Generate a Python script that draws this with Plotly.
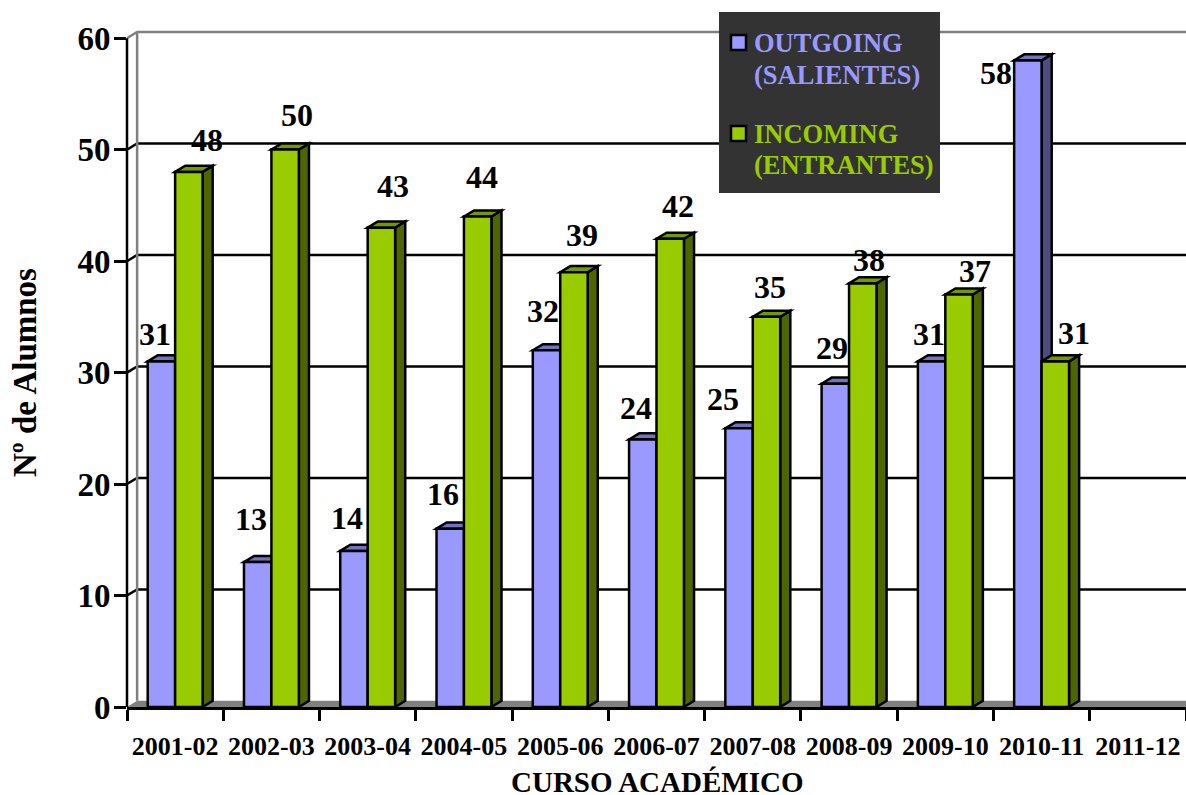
import plotly.graph_objects as go

cursos = ["2001-02", "2002-03", "2003-04", "2004-05", "2005-06", "2006-07",
          "2007-08", "2008-09", "2009-10", "2010-11", "2011-12"]
outgoing = [31, 13, 14, 16, 32, 24, 25, 29, 31, 58]
incoming = [48, 50, 43, 44, 39, 42, 35, 38, 37, 31]
y_ticks = [0, 10, 20, 30, 40, 50, 60]

# hand placed label offsets (px), the labels in the original are not regular
out_dx = [-6, -7, -7, -7, -4, -7, -16, -3, -3, -32]
out_dy = [27, 43, 33, 35, 39, 31, 29, 36, 27, -13]
in_dx = [18, 12, 12, 4, 8, 8, 4, 6, 16, 19]
in_dy = [32, 35, 42, 40, 37, 33, 30, 23, 24, 28]

FONT = "Liberation Serif"
LILAC, LILAC_TOP, LILAC_SIDE = "#9999FF", "#7373BF", "#4D4D80"
GREEN, GREEN_TOP, GREEN_SIDE = "#99CC00", "#739900", "#4D6600"

W, H = 1186, 795
L, R, T, B = 127, 0, 27, 88
BAR_W = 0.285
DEPTH_X = 0.105  # fake 3d depth in x units
DEPTH_Y = 0.55   # and in y units
X0, X1 = -0.5, 10.5


def paper_x(px):
    return (px - L) / (W - L - R)


def paper_y(px):
    return (H - B - px) / (H - T - B)


shapes = []

# floor
shapes.append(dict(
    type="path", layer="below", xref="x", yref="y", line=dict(width=0),
    fillcolor="#808080",
    path=f"M{X0},0 L{X0 + DEPTH_X},{DEPTH_Y} L{X1},{DEPTH_Y} L{X1},0 Z",
))
# back wall grid, with the small diagonal coming from the axis tick
for v in y_ticks[1:]:
    shapes.append(dict(
        type="path", layer="below", xref="x", yref="y",
        line=dict(color="#808080" if v == 60 else "black", width=2.5),
        path=f"M{X0},{v} L{X0 + DEPTH_X},{v + DEPTH_Y} L{X1},{v + DEPTH_Y}",
    ))
# left wall edge
shapes.append(dict(
    type="line", layer="below", xref="x", yref="y",
    x0=X0 + DEPTH_X, x1=X0 + DEPTH_X, y0=DEPTH_Y, y1=60 + DEPTH_Y,
    line=dict(color="#808080", width=2.5),
))


def bar_faces(values, offset, top_color, side_color):
    for i, v in enumerate(values):
        x_l = i + offset
        x_r = x_l + BAR_W
        shapes.append(dict(
            type="path", layer="below", xref="x", yref="y", fillcolor=side_color,
            line=dict(color="black", width=2.5),
            path=f"M{x_r},0 L{x_r + DEPTH_X},{DEPTH_Y} L{x_r + DEPTH_X},{v + DEPTH_Y} L{x_r},{v} Z",
        ))
        shapes.append(dict(
            type="path", layer="below", xref="x", yref="y", fillcolor=top_color,
            line=dict(color="black", width=2.5),
            path=f"M{x_l},{v} L{x_l + DEPTH_X},{v + DEPTH_Y} L{x_r + DEPTH_X},{v + DEPTH_Y} L{x_r},{v} Z",
        ))


bar_faces(outgoing, -BAR_W, LILAC_TOP, LILAC_SIDE)
bar_faces(incoming, 0, GREEN_TOP, GREEN_SIDE)

# y axis line stops at 60, the range goes higher for the back wall
shapes.append(dict(
    type="line", layer="above", xref="paper", yref="y", x0=0, x1=0, y0=0, y1=60,
    line=dict(color="black", width=2.5),
))
# legend panel and its two keys
shapes.append(dict(
    type="rect", layer="above", xref="paper", yref="paper",
    x0=paper_x(719), x1=paper_x(940), y0=paper_y(193), y1=paper_y(12),
    fillcolor="#333333", line=dict(width=0),
))
for color, top in [(LILAC, 35), (GREEN, 126)]:
    shapes.append(dict(
        type="rect", layer="above", xref="paper", yref="paper",
        x0=paper_x(731), x1=paper_x(746), y0=paper_y(top + 15), y1=paper_y(top),
        fillcolor=color, line=dict(color="black", width=2.5),
    ))

fig = go.Figure()
fig.add_bar(
    x=list(range(len(outgoing))), y=outgoing, width=BAR_W, offset=-BAR_W,
    marker=dict(color=LILAC, line=dict(color="black", width=2.5)),
    name="OUTGOING (SALIENTES)", cliponaxis=False,
)
fig.add_bar(
    x=list(range(len(incoming))), y=incoming, width=BAR_W, offset=0,
    marker=dict(color=GREEN, line=dict(color="black", width=2.5)),
    name="INCOMING (ENTRANTES)", cliponaxis=False,
)

annotations = []
for values, offset, dxs, dys in [(outgoing, -BAR_W / 2, out_dx, out_dy),
                                 (incoming, BAR_W / 2, in_dx, in_dy)]:
    for i, v in enumerate(values):
        annotations.append(dict(
            x=i + offset, y=v, xref="x", yref="y", text=str(v), showarrow=False,
            xshift=dxs[i], yshift=dys[i], xanchor="center", yanchor="middle",
            font=dict(family=FONT, size=32, color="black", weight="bold"),
        ))

for text, color, y in [("OUTGOING", LILAC, 43), ("(SALIENTES)", LILAC, 75),
                       ("INCOMING", GREEN, 134), ("(ENTRANTES)", GREEN, 165)]:
    annotations.append(dict(
        x=paper_x(754), y=paper_y(y), xref="paper", yref="paper", text=text,
        showarrow=False, xanchor="left", yanchor="middle", borderpad=0,
        xshift=-1,
        font=dict(family=FONT, size=26.5, color=color, weight="bold"),
    ))

annotations.append(dict(
    x=paper_x(657), y=paper_y(782), xref="paper", yref="paper",
    text="CURSO ACADÉMICO", showarrow=False, xanchor="center", yanchor="middle",
    font=dict(family=FONT, size=29, color="black", weight="bold"),
))
annotations.append(dict(
    x=paper_x(25), y=paper_y(373), xref="paper", yref="paper",
    text="Nº de Alumnos", showarrow=False, textangle=-90,
    xanchor="center", yanchor="middle",
    font=dict(family=FONT, size=33, color="black", weight="bold"),
))

fig.update_layout(
    width=W, height=H,
    margin=dict(l=L, r=R, t=T, b=B),
    paper_bgcolor="white", plot_bgcolor="white",
    barmode="overlay",
    shapes=shapes, annotations=annotations,
    showlegend=False,
    xaxis=dict(
        range=[X0, X1], tickmode="array", automargin=False,
        tickvals=list(range(len(cursos))), ticktext=cursos,
        ticks="", showgrid=False, zeroline=False,
        showline=True, linecolor="black", linewidth=2.5,
        ticklabelstandoff=14,
        tickfont=dict(family=FONT, size=26, color="black", weight="bold"),
        minor=dict(ticks="outside", tick0=-0.5, dtick=1, ticklen=11,
                   tickwidth=2.5, tickcolor="black", showgrid=False),
    ),
    yaxis=dict(
        range=[0, 61], tickmode="array", tickvals=y_ticks, automargin=False,
        ticks="outside", ticklen=12, tickwidth=2.5, tickcolor="black",
        showgrid=False, zeroline=False, showline=False,
        ticklabelstandoff=-3,
        tickfont=dict(family=FONT, size=33, color="black", weight="bold"),
    ),
)

# the browser's default body margin would push the figure off the window
fig.write_html("out.html", config={"displayModeBar": False},
               post_script="document.body.style.margin = '0';")
